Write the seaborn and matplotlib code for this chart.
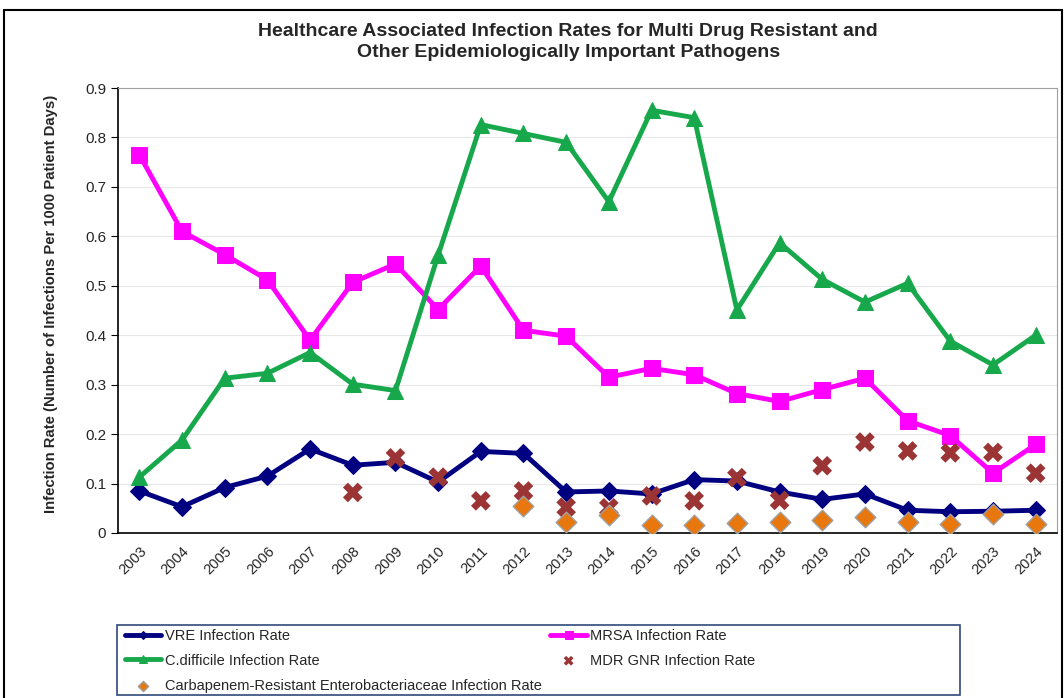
import numpy as np
import pandas as pd
import seaborn as sns
import matplotlib.pyplot as plt
from matplotlib.patches import Rectangle

years = [str(y) for y in range(2003, 2025)]

vre = [0.085, 0.053, 0.092, 0.115, 0.170, 0.137, 0.143, 0.103, 0.165, 0.161, 0.083,
       0.085, 0.079, 0.108, 0.105, 0.083, 0.068, 0.079, 0.046, 0.043, 0.044, 0.046]
mrsa = [0.765, 0.610, 0.563, 0.512, 0.390, 0.507, 0.544, 0.452, 0.540, 0.410, 0.398,
        0.315, 0.333, 0.320, 0.282, 0.266, 0.290, 0.313, 0.227, 0.197, 0.121, 0.179]
cdiff = [0.113, 0.188, 0.313, 0.323, 0.365, 0.301, 0.288, 0.562, 0.826, 0.808, 0.790,
         0.670, 0.855, 0.840, 0.451, 0.587, 0.513, 0.467, 0.505, 0.388, 0.340, 0.400]
mdr_years = years[5:]
mdr = [0.082, 0.152, 0.113, 0.065, 0.085, 0.052, 0.051, 0.075, 0.065, 0.112, 0.066,
       0.136, 0.184, 0.166, 0.162, 0.163, 0.121]
cre_years = years[9:]
cre = [0.055, 0.023, 0.037, 0.016, 0.016, 0.020, 0.023, 0.026, 0.033, 0.023, 0.018,
       0.038, 0.018]

sns.set_style("white")
plt.rcParams['font.family'] = ['Liberation Sans', 'DejaVu Sans']

W, H = 1064, 698
fig = plt.figure(figsize=(W / 100, H / 100), dpi=100)
ax = fig.add_axes([118 / W, 1 - 533 / H, 939 / W, 445 / H])

xpos = {y: i for i, y in enumerate(years)}
x_all = [xpos[y] for y in years]

sns.lineplot(x=x_all, y=vre, ax=ax, color="#000080", lw=3.5, marker="D", markersize=9,
             markeredgecolor="#000080", label="VRE Infection Rate")
sns.lineplot(x=x_all, y=mrsa, ax=ax, color="#FF00FF", lw=3.5, marker="s", markersize=12,
             markeredgecolor="#FF00FF", label="MRSA Infection Rate")
sns.lineplot(x=x_all, y=cdiff, ax=ax, color="#17A84C", lw=3.5, marker="^", markersize=11,
             markeredgecolor="#17A84C", label="C.difficile Infection Rate")
sns.scatterplot(x=[xpos[y] for y in mdr_years], y=mdr, ax=ax, color="#9B3535", marker="X",
                s=200, edgecolor="none", label="MDR GNR Infection Rate", zorder=4)
sns.scatterplot(x=[xpos[y] for y in cre_years], y=cre, ax=ax, color="#E8770E", marker="D",
                s=110, edgecolor="#A0A0A0", linewidth=1,
                label="Carbapenem-Resistant Enterobacteriaceae Infection Rate", zorder=4)

ax.set_xlim(-0.5, 21.5)
ax.set_ylim(0, 0.9)
ax.set_yticks(np.arange(0, 0.91, 0.1))
ax.set_yticklabels(["0"] + [f"{v:.1f}" for v in np.arange(0.1, 0.91, 0.1)], fontsize=11)
ax.set_xticks(x_all)
ax.set_xticklabels(years, rotation=45, ha="right", rotation_mode="anchor", fontsize=10.5)
ax.set_xticks(np.arange(-0.5, 22, 1), minor=True)
ax.tick_params(axis="x", which="major", length=0, pad=8)
ax.tick_params(axis="x", which="minor", length=5, direction="out", color="black")
ax.tick_params(axis="y", length=5, direction="out", color="black", left=True)
ax.grid(axis="y", color="#E8E8E8", lw=0.8)
ax.set_axisbelow(True)
for side in ["top", "right"]:
    ax.spines[side].set_color("#A0A0A0")
for side in ["left", "bottom"]:
    ax.spines[side].set_color("black")
    ax.spines[side].set_linewidth(1.2)

ax.set_xlabel("")
ax.set_ylabel("Infection Rate (Number of Infections Per 1000 Patient Days)",
              fontsize=10.7, fontweight="bold")
ax.yaxis.set_label_coords(-0.064, 0.515)
fig.suptitle("Healthcare Associated Infection Rates for Multi Drug Resistant and\n"
             "Other Epidemiologically Important Pathogens",
             x=0.534, y=0.967, fontsize=14, fontweight="bold", linespacing=1.3)

handles, labels = ax.get_legend_handles_labels()
order = [0, 2, 4, 1, 3]
leg = ax.legend([handles[i] for i in order], [labels[i] for i in order], ncol=2,
                loc="upper left", bbox_to_anchor=(121 / W, 1 - 625 / H),
                bbox_transform=fig.transFigure, fontsize=10.5, frameon=False,
                handlelength=2.5, markerscale=0.5, borderaxespad=0, borderpad=0.25,
                labelspacing=0.75, handletextpad=0.25, columnspacing=0.6)

fig.patches.append(Rectangle((117 / W, 1 - 695 / H), 843 / W, 70 / H, transform=fig.transFigure,
                             fill=False, edgecolor="#304A7A", lw=1.2))
fig.patches.append(Rectangle((0.004, -0.01), 0.994, 0.996, transform=fig.transFigure,
                             fill=False, edgecolor="black", lw=1.5))

fig.savefig("out.png", dpi=100)
